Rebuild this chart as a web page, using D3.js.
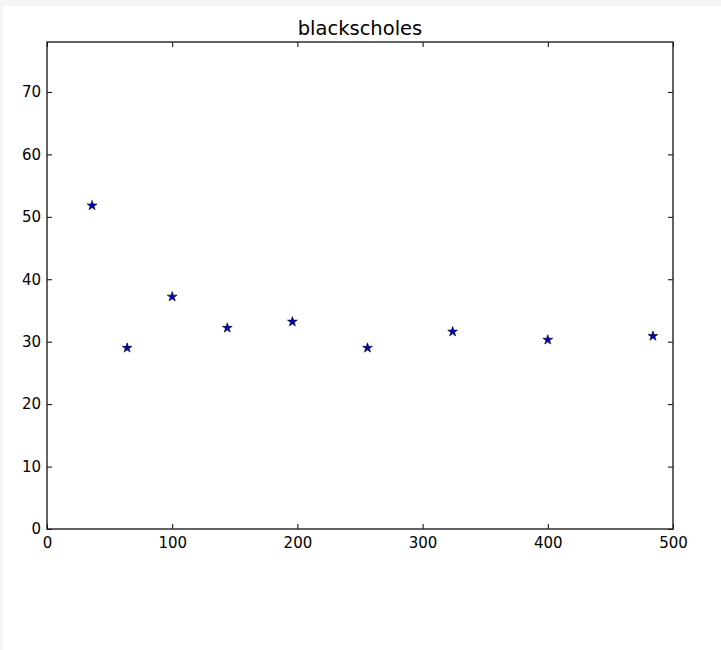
<!DOCTYPE html>
<html>
<head>
<meta charset="utf-8">
<script src="https://cdn.jsdelivr.net/npm/d3@7"></script>
<style>
  html, body { margin: 0; padding: 0; background: #f5f5f5; }
  svg { position: absolute; left: 3px; top: 6px; background: #fff; }
  text { font-family: "DejaVu Sans", sans-serif; fill: #000; }
</style>
</head>
<body>
<svg width="718" height="644"></svg>
<script>
// blackscholes: one star per run
const xValues = [36, 64, 100, 144, 196, 256, 324, 400, 484];
const yValues = [51.8, 29.0, 37.2, 32.2, 33.2, 29.0, 31.6, 30.3, 30.9];
const xTicks = [0, 100, 200, 300, 400, 500];
const yTicks = [0, 10, 20, 30, 40, 50, 60, 70];
const title = 'blackscholes';

const data = xValues.map((x, i) => ({ x, y: yValues[i] }));

const margin = { left: 44, top: 36, right: 48, bottom: 121 };

const svg = d3.select('svg');
const width = +svg.attr('width');
const height = +svg.attr('height');
const innerWidth = width - margin.left - margin.right;
const innerHeight = height - margin.top - margin.bottom;

const g = svg.append('g')
    .attr('transform', `translate(${margin.left},${margin.top})`);

const xScale = d3.scaleLinear().domain([0, 500]).range([0, innerWidth]);
const yScale = d3.scaleLinear().domain([0, 78]).range([innerHeight, 0]);

const tickLen = 5;

const styleAxis = sel => {
    sel.select('.domain').remove();
    sel.selectAll('.tick line').attr('stroke', '#000').attr('stroke-width', 1);
    sel.selectAll('.tick text').style('font-size', '15px');
};

// bottom, with inward ticks
g.append('g')
    .attr('transform', `translate(0,${innerHeight})`)
    .call(d3.axisBottom(xScale).tickValues(xTicks).tickSize(-tickLen).tickPadding(8))
    .call(styleAxis);
// top ticks, no labels
g.append('g')
    .call(d3.axisTop(xScale).tickValues(xTicks).tickSize(-tickLen))
    .call(styleAxis)
    .call(a => a.selectAll('.tick text').remove());
// left
g.append('g')
    .call(d3.axisLeft(yScale).tickValues(yTicks).tickSize(-tickLen).tickPadding(6))
    .call(styleAxis);
// right ticks, no labels
g.append('g')
    .attr('transform', `translate(${innerWidth},0)`)
    .call(d3.axisRight(yScale).tickValues(yTicks).tickSize(-tickLen))
    .call(styleAxis)
    .call(a => a.selectAll('.tick text').remove());

g.selectAll('.tick text').attr('font-family', null);

g.append('rect')
    .attr('width', innerWidth)
    .attr('height', innerHeight)
    .attr('fill', 'none')
    .attr('stroke', '#222')
    .attr('stroke-width', 1.4);

const star = d3.symbol().type(d3.symbolStar).size(30);

g.selectAll('.pt')
    .data(data)
    .enter().append('path')
    .attr('class', 'pt')
    .attr('transform', d => `translate(${xScale(d.x)},${yScale(d.y)})`)
    .attr('d', star)
    .attr('fill', '#0000cc')
    .attr('stroke', '#000')
    .attr('stroke-width', 0.6);

svg.append('text')
    .attr('x', margin.left + innerWidth / 2)
    .attr('y', 29)
    .attr('text-anchor', 'middle')
    .style('font-size', '19.5px')
    .text(title);
</script>
</body>
</html>
